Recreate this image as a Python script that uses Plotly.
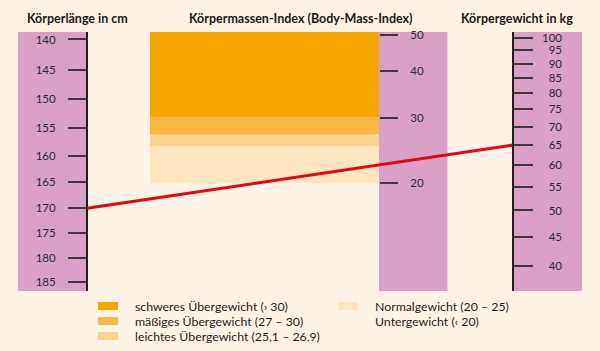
import math
import plotly.graph_objects as go

# ---------------- data ----------------
height_ticks = [140, 145, 150, 155, 160, 165, 170, 175, 180, 185]
bmi_ticks = [20, 30, 40, 50]
weight_ticks = [40, 45, 50, 55, 60, 65, 70, 75, 80, 85, 90, 95, 100]

band_labels = [
    "schweres Übergewicht (› 30)",
    "mäßiges Übergewicht (27 – 30)",
    "leichtes Übergewicht (25,1 – 26,9)",
    "Normalgewicht (20 – 25)",
    "Untergewicht (‹ 20)",
]
band_low = [30, 27, 25.1, 20, None]
band_high = [None, 30, 26.9, 25, 20]
band_colors = ["#F5A500", "#F8B645", "#FDD38E", "#FEE6C0", None]

example_height = 170   # cm
example_weight = 65    # kg

titles = ["Körperlänge in cm", "Körpermassen-Index (Body-Mass-Index)", "Körpergewicht in kg"]

# ---------------- layout constants ----------------
W, H = 600, 351
BG = "#FEF3E7"
PINK = "#D9A1C8"
INK = "#231F20"
FONT = "Lato"

HEIGHT_RANGE = (187.0, 138.8)   # bottom -> top (reversed)
BMI_RANGE = (10.27, 50.92)
WEIGHT_RANGE = (36.2, 102.3)


def py(px):
    return 1 - px / H


DOM = [py(291), py(32)]
X_H, X_B, X_W = 87, 379, 513

fig = go.Figure()

# BMI bands
for lab, lo, hi, col in zip(band_labels, band_low, band_high, band_colors):
    if col is None:
        continue
    lo = lo if lo is not None else BMI_RANGE[0]
    hi = hi if hi is not None else BMI_RANGE[1]
    fig.add_trace(go.Scatter(
        x=[150, X_B, X_B, 150, 150], y=[lo, lo, hi, hi, lo],
        mode="lines", fill="toself", fillcolor=col, line=dict(width=0),
        yaxis="y2", hoverinfo="skip", showlegend=False))


# red example line: height on left scale -> weight on right scale
def frac(v, rng):
    a, b = math.log10(rng[0]), math.log10(rng[1])
    return (math.log10(v) - a) / (b - a)


# express the height point in weight-axis units (same pixel position)
fh = frac(example_height, HEIGHT_RANGE)
w0, w1 = math.log10(WEIGHT_RANGE[0]), math.log10(WEIGHT_RANGE[1])
h_as_w = 10 ** (w0 + fh * (w1 - w0))

# dummy trace so the label axis renders
fig.add_trace(go.Scatter(x=[-10], y=[50], mode="markers", opacity=0,
                         yaxis="y4", hoverinfo="skip", showlegend=False))
fig.add_trace(go.Scatter(x=[X_H, X_W], y=[h_as_w, example_weight], mode="lines",
                         line=dict(color="#E30613", width=3), yaxis="y3",
                         hoverinfo="skip", showlegend=False))
fig.add_trace(go.Scatter(x=[-10], y=[160], mode="markers", opacity=0,
                         yaxis="y", hoverinfo="skip", showlegend=False))

tickfont = dict(family=FONT, size=11.5, color="#2a2a3a")

common = dict(type="log", showgrid=False, zeroline=False, fixedrange=True, automargin=False)

fig.update_layout(
    width=W, height=H,
    margin=dict(l=0, r=0, t=0, b=0, pad=0, autoexpand=False),
    paper_bgcolor=BG, plot_bgcolor=BG,
    showlegend=False,
    xaxis=dict(range=[0, W], visible=False, domain=[0, 1], fixedrange=True, automargin=False),
    yaxis=dict(**common, range=[math.log10(HEIGHT_RANGE[0]), math.log10(HEIGHT_RANGE[1])],
               domain=DOM, anchor="free", position=X_H / W, side="left",
               showline=True, linecolor=INK, linewidth=2,
               ticks="outside", ticklen=18, tickwidth=1.5, tickcolor="#3a3a3a",
               tickvals=height_ticks, ticktext=[str(v) for v in height_ticks],
               tickfont=tickfont, ticklabelstandoff=10),
    yaxis2=dict(**common, range=[math.log10(BMI_RANGE[0]), math.log10(BMI_RANGE[1])],
                overlaying="y", anchor="free", position=X_B / W, side="right",
                showline=False, ticks="outside", ticklen=18, tickwidth=1.5, tickcolor="#3a3a3a",
                tickvals=bmi_ticks, ticktext=[str(v) for v in bmi_ticks],
                tickfont=tickfont, ticklabelstandoff=10),
    yaxis3=dict(**common, range=[math.log10(WEIGHT_RANGE[0]), math.log10(WEIGHT_RANGE[1])],
                overlaying="y", anchor="free", position=X_W / W, side="right",
                showline=True, linecolor=INK, linewidth=2,
                ticks="outside", ticklen=19, tickwidth=1.5, tickcolor="#3a3a3a",
                tickvals=weight_ticks, showticklabels=False),
    yaxis4=dict(**common, range=[math.log10(WEIGHT_RANGE[0]), math.log10(WEIGHT_RANGE[1])],
                overlaying="y", anchor="free", position=562 / W, side="left",
                showline=False, ticks="",
                tickvals=weight_ticks, ticktext=[str(v) for v in weight_ticks],
                tickfont=tickfont),
)

shapes = []
for x0, x1 in [(18, X_H), (X_B, 447.5), (X_W, 582)]:
    shapes.append(dict(type="rect", xref="x", yref="paper", x0=x0, x1=x1,
                       y0=DOM[0], y1=DOM[1], fillcolor=PINK, line=dict(width=0),
                       layer="below"))

annotations = []
for t, xc in zip(titles, [77, 301, 517]):
    annotations.append(dict(text="<b>" + t + "</b>", xref="x", yref="paper", x=xc, y=py(19),
                            xanchor="center", yanchor="middle", showarrow=False,
                            font=dict(family=FONT, size=12.5, color="#1a1a1a")))

# legend (two columns)
leg_pos = [(98, 306), (98, 321), (98, 336), (338, 306), (338, 321)]
for lab, col, (lx, ly) in zip(band_labels, band_colors, leg_pos):
    if col is not None:
        shapes.append(dict(type="rect", xref="x", yref="paper", x0=lx, x1=lx + 20,
                           y0=py(ly + 4), y1=py(ly - 4), fillcolor=col, line=dict(width=0)))
    annotations.append(dict(text=lab, xref="x", yref="paper", x=lx + 35, y=py(ly),
                            xanchor="left", yanchor="middle", showarrow=False,
                            font=dict(family=FONT, size=12.3, color="#1e1e1e")))

fig.update_layout(shapes=shapes, annotations=annotations)
fig.write_html("out.html")
